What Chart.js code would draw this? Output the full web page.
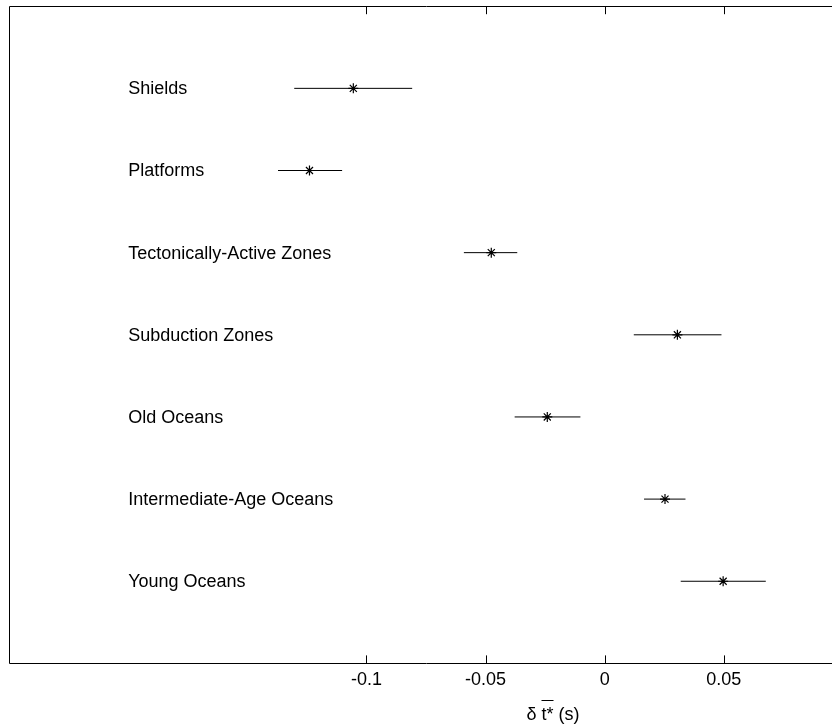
<!DOCTYPE html>
<html>
<head>
<meta charset="utf-8">
<script src="https://cdn.jsdelivr.net/npm/chart.js@4"></script>
<style>
  html, body { margin: 0; padding: 0; background: #fff; overflow: hidden; }
  #wrap { width: 832px; height: 728px; overflow: hidden; position: relative; }
  #chart { display: block; }
</style>
</head>
<body>
<div id="wrap"><canvas id="chart" width="900" height="728" style="width:900px;height:728px"></canvas></div>
<script>
// --- data ---
const categories = ['Shields', 'Platforms', 'Tectonically-Active Zones', 'Subduction Zones',
  'Old Oceans', 'Intermediate-Age Oceans', 'Young Oceans'];
const centers = [-0.1055, -0.1239, -0.0476, 0.0305, -0.0241, 0.0253, 0.0497];
const lower = [-0.1303, -0.1371, -0.0591, 0.0122, -0.0378, 0.0165, 0.0319];
const upper = [-0.0808, -0.1102, -0.0367, 0.0490, -0.0102, 0.0339, 0.0676];
const tickValues = [-0.1, -0.05, 0, 0.05];
const tickLabels = ['-0.1', '-0.05', '0', '0.05'];

const FONT = '"Liberation Sans", Arial, sans-serif';

// error bars: one short line per category
const barSets = categories.map((c, i) => ({
  type: 'line',
  label: c,
  data: [{ x: lower[i], y: i + 1 }, { x: upper[i], y: i + 1 }],
  borderColor: '#000',
  borderWidth: 1,
  pointRadius: 0,
  fill: false
}));

const pointSet = {
  type: 'scatter',
  label: 'mean',
  data: centers.map((v, i) => ({ x: v, y: i + 1 })),
  pointStyle: 'star',
  pointRadius: 5,
  borderColor: '#000',
  backgroundColor: '#000',
  borderWidth: 1.2
};

// box, inward ticks, row labels and the x label
const decorations = {
  id: 'decorations',
  afterDraw(chart) {
    const { ctx, chartArea: a, scales } = chart;
    const x = scales.x, y = scales.y;
    ctx.save();
    ctx.strokeStyle = '#000';
    ctx.lineWidth = 1;
    ctx.beginPath();
    ctx.rect(Math.round(a.left) + 0.5, Math.round(a.top) + 0.5,
      Math.round(a.right - a.left), Math.round(a.bottom - a.top));
    ctx.stroke();

    ctx.beginPath();
    tickValues.forEach(v => {
      const px = Math.round(x.getPixelForValue(v)) + 0.5;
      ctx.moveTo(px, a.bottom);
      ctx.lineTo(px, a.bottom - 8);
      ctx.moveTo(px, a.top);
      ctx.lineTo(px, a.top + 8);
    });
    ctx.stroke();

    ctx.fillStyle = '#000';
    ctx.font = '18px ' + FONT;
    ctx.textAlign = 'left';
    ctx.textBaseline = 'middle';
    categories.forEach((c, i) => {
      ctx.fillText(c, x.getPixelForValue(-0.2), y.getPixelForValue(i + 1) + 1);
    });

    // x label: delta t-bar* (s)
    const p1 = '\u03b4 ', p2 = 't*', p3 = ' (s)';
    const w1 = ctx.measureText(p1).width;
    const w2 = ctx.measureText(p2).width;
    const w3 = ctx.measureText(p3).width;
    let sx = 553 - (w1 + w2 + w3) / 2;
    const base = 720;
    ctx.textBaseline = 'alphabetic';
    ctx.fillText(p1, sx, base);
    ctx.fillText(p2, sx + w1, base);
    ctx.fillText(p3, sx + w1 + w2, base);
    ctx.beginPath();
    ctx.moveTo(sx + w1, base - 19.5);
    ctx.lineTo(sx + w1 + w2, base - 19.5);
    ctx.stroke();
    ctx.restore();
  }
};

new Chart(document.getElementById('chart'), {
  data: { datasets: [...barSets, pointSet] },
  options: {
    responsive: false,
    animation: false,
    layout: { padding: { left: 9, top: 5, right: 57, bottom: 31 } },
    plugins: { legend: { display: false }, tooltip: { enabled: false } },
    scales: {
      x: {
        type: 'linear',
        min: -0.25,
        max: 0.1,
        afterBuildTicks: axis => { axis.ticks = tickValues.map(v => ({ value: v })); },
        ticks: {
          callback: (v, i) => tickLabels[i],
          autoSkip: false,
          maxRotation: 0,
          padding: 6,
          color: '#000',
          font: { family: FONT, size: 18 }
        },
        grid: { display: false, drawTicks: false },
        border: { display: false }
      },
      y: {
        type: 'linear',
        min: 0,
        max: 8,
        reverse: true,
        display: false
      }
    }
  },
  plugins: [decorations]
});
</script>
</body>
</html>
